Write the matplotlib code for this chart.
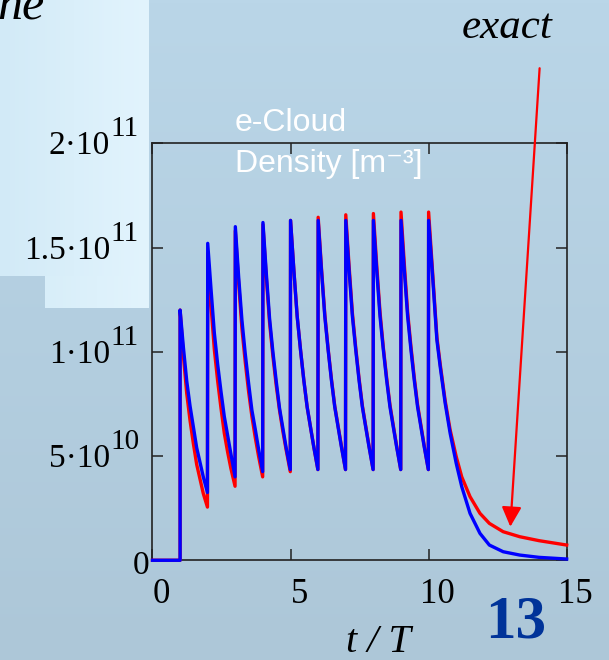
#! /usr/bin/env python3
# e-cloud density build-up over ten bunch passages, exact (red) vs approximate (blue)
import numpy as np
import matplotlib
matplotlib.use("Agg")
import matplotlib.pyplot as plt
from matplotlib.colors import to_rgb

# sample points inside one bunch spacing (fraction of T)
phase = [0.0, 0.12, 0.24, 0.36, 0.48, 0.60, 0.72, 0.84, 0.99]

# density in units of 1e11 m^-3, one row per bunch 1..9
blue_rows = [
    [1.20, 1.02, 0.86, 0.74, 0.64, 0.54, 0.47, 0.40, 0.325],
    [1.52, 1.30, 1.09, 0.94, 0.81, 0.69, 0.60, 0.51, 0.40],
    [1.60, 1.36, 1.15, 0.99, 0.85, 0.72, 0.63, 0.535, 0.425],
    [1.62, 1.38, 1.16, 1.00, 0.86, 0.73, 0.635, 0.54, 0.435],
    [1.63, 1.39, 1.17, 1.01, 0.864, 0.736, 0.64, 0.545, 0.435],
    [1.63, 1.39, 1.17, 1.01, 0.864, 0.736, 0.64, 0.545, 0.435],
    [1.63, 1.39, 1.17, 1.01, 0.864, 0.736, 0.64, 0.545, 0.435],
    [1.63, 1.39, 1.17, 1.01, 0.864, 0.736, 0.64, 0.545, 0.435],
    [1.63, 1.39, 1.17, 1.01, 0.864, 0.736, 0.64, 0.545, 0.435],
]
red_rows = [
    [1.20, 0.98, 0.80, 0.67, 0.56, 0.46, 0.39, 0.32, 0.255],
    [1.47, 1.22, 1.01, 0.86, 0.73, 0.61, 0.52, 0.44, 0.355],
    [1.58, 1.33, 1.11, 0.95, 0.81, 0.69, 0.59, 0.50, 0.40],
    [1.61, 1.36, 1.14, 0.98, 0.84, 0.72, 0.62, 0.53, 0.425],
    [1.63, 1.39, 1.17, 1.01, 0.864, 0.736, 0.64, 0.545, 0.435],
    [1.645, 1.40, 1.18, 1.015, 0.87, 0.74, 0.645, 0.55, 0.435],
    [1.657, 1.41, 1.185, 1.02, 0.873, 0.742, 0.645, 0.55, 0.435],
    [1.663, 1.415, 1.19, 1.02, 0.875, 0.745, 0.647, 0.55, 0.435],
    [1.67, 1.42, 1.19, 1.025, 0.877, 0.746, 0.648, 0.55, 0.435],
]

# last bunch and the decay after the train
tail_t = [10.0, 10.12, 10.3, 10.42, 10.6, 10.78, 11.0, 11.2, 11.5, 11.86, 12.2, 12.7, 13.3, 14.0, 15.0]
blue_tail = [1.63, 1.41, 1.056, 0.928, 0.753, 0.609, 0.465, 0.353, 0.225, 0.129, 0.073, 0.041, 0.025, 0.014, 0.006]
red_tail = [1.67, 1.43, 1.07, 0.94, 0.765, 0.625, 0.497, 0.40, 0.305, 0.225, 0.177, 0.137, 0.113, 0.094, 0.073]

yticks = [0, 0.5e11, 1.0e11, 1.5e11, 2.0e11]
ytick_base = ["0", "5·10", "1·10", "1.5·10", "2·10"]
ytick_exp = ["", "10", "11", "11", "11"]
xticks = [0, 5, 10, 15]


def build_curve(rows, tail_vals):
    """glue the per-bunch samples and the tail into one time series"""
    t = [0.0, 1.0]
    n = [0.0, 0.0]
    for k, row in enumerate(rows):
        for p, v in zip(phase, row):
            t.append(k + 1 + p)
            n.append(v * 1e11)
    t += tail_t
    n += [v * 1e11 for v in tail_vals]
    return np.array(t), np.array(n)


def vgrad(c1, c2, n=200):
    a = np.array(to_rgb(c1))
    b = np.array(to_rgb(c2))
    f = np.linspace(0, 1, n)[:, None]
    return (a + (b - a) * f)[:, None, :]


def hgrad(c1, c2, n=200):
    a = np.array(to_rgb(c1))
    b = np.array(to_rgb(c2))
    f = np.linspace(0, 1, n)[:, None]
    return (a + (b - a) * f)[None, :, :]


serif = "Liberation Serif"

fig = plt.figure(figsize=(6.09, 6.60), dpi=100)

# slide background
bg = fig.add_axes([0, 0, 1, 1], zorder=-10)
bg.axis("off")
bg.imshow(vgrad("#bad6e8", "#adc7d8"), extent=[0, 609, 660, 0], aspect="auto")
bg.imshow(hgrad("#d2eaf7", "#e2f4fd"), extent=[0, 149, 276, 0], aspect="auto")
bg.imshow(hgrad("#d8eef9", "#e2f4fd"), extent=[45, 149, 308, 276], aspect="auto")
bg.set_xlim(0, 609)
bg.set_ylim(660, 0)

ax = fig.add_axes([0.2504, 0.1511, 0.6801, 0.6318])
ax.set_facecolor("none")

t_red, n_red = build_curve(red_rows, red_tail)
t_blue, n_blue = build_curve(blue_rows, blue_tail)
ax.plot(t_red, n_red, color="#ff0000", lw=2.4, clip_on=False, zorder=3)
ax.plot(t_blue, n_blue, color="#0000ff", lw=2.4, clip_on=False, zorder=4)

ax.set_xlim(0, 15)
ax.set_ylim(0, 2e11)
ax.set_xticks(xticks)
ax.set_yticks(yticks)
ax.set_xticklabels([])
ax.set_yticklabels([])
ax.tick_params(direction="in", length=8, width=1.1, color="#222222",
               top=True, right=True)
for s in ax.spines.values():
    s.set_linewidth(1.2)
    s.set_color("#222222")

# tick labels: base and exponent as separate texts
for y, base, ex in zip(yticks, ytick_base, ytick_exp):
    if ex == "":
        ax.annotate(base, xy=(0, y), xycoords=("axes fraction", "data"),
                    xytext=(-2, -4), textcoords="offset points",
                    ha="right", va="center", fontsize=24, family=serif)
        continue
    ax.annotate(base, xy=(0, y), xycoords=("axes fraction", "data"),
                xytext=(-30.5, -2), textcoords="offset points",
                ha="right", va="center", fontsize=24, family=serif)
    ax.annotate(ex, xy=(0, y), xycoords=("axes fraction", "data"),
                xytext=(-30.5, 10), textcoords="offset points",
                ha="left", va="center", fontsize=21, family=serif)

for x in xticks:
    ax.annotate(str(x), xy=(x, 0), xycoords=("data", "axes fraction"),
                xytext=(6.5, -13), textcoords="offset points",
                ha="center", va="top", fontsize=25, family=serif)

sans = ["Liberation Sans", "DejaVu Sans"]
fig.text(235 / 609, 1 - 131 / 660, "e-Cloud", color="white", fontsize=23,
         family=sans, ha="left", va="baseline")
fig.text(235 / 609, 1 - 172 / 660, "Density [m⁻³]", color="white",
         fontsize=23, family=sans, ha="left", va="baseline")

# arrow pointing at the exact curve
ax.annotate("", xy=(12.96, 1.61e10), xytext=(14.02, 2.36e11),
            annotation_clip=False,
            arrowprops=dict(arrowstyle="-|>", color="#ff0000", lw=1.6,
                            mutation_scale=30, shrinkA=0, shrinkB=0))

fig.text(507 / 609, 1 - 28 / 660, "exact", fontsize=31, family=serif,
         style="italic", ha="center", va="center")
fig.text(-0.005, 1 - 20 / 660, "ne", fontsize=36, family=serif,
         style="italic", ha="left", va="baseline")
fig.text(378 / 609, 1 - 642 / 660, "t / T", fontsize=29, family=serif,
         style="italic", ha="center", va="center")
fig.text(516 / 609, 1 - 622 / 660, "13", fontsize=44, family=serif,
         weight="bold", color="#003399", ha="center", va="center")

plt.savefig("out.png", dpi=100)
plt.close("all")
